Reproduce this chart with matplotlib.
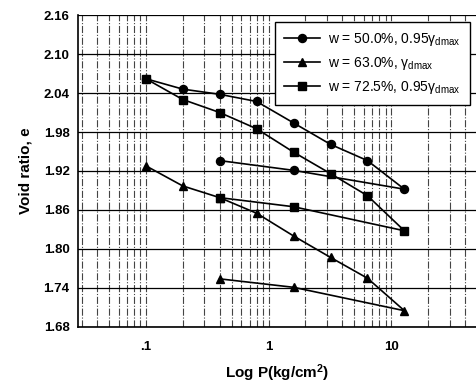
import matplotlib
matplotlib.use("Agg")
import matplotlib.pyplot as plt
from matplotlib.ticker import FixedLocator, FixedFormatter, NullFormatter, LogLocator

plt.rcParams['font.family'] = ['Liberation Sans', 'DejaVu Sans']
plt.rcParams['mathtext.fontset'] = 'custom'
plt.rcParams['mathtext.rm'] = 'Liberation Sans'
plt.rcParams['mathtext.it'] = 'Liberation Sans'
plt.rcParams['mathtext.default'] = 'regular'

# pressure steps (kg/cm2), loading then unloading
p_50 = [0.1, 0.2, 0.4, 0.8, 1.6, 3.2, 6.4, 12.8, 1.6, 0.4]
e_50 = [2.062, 2.046, 2.038, 2.027, 1.994, 1.961, 1.936, 1.892, 1.921, 1.936]

p_63 = [0.1, 0.2, 0.4, 0.8, 1.6, 3.2, 6.4, 12.8, 1.6, 0.4]
e_63 = [1.928, 1.897, 1.879, 1.855, 1.820, 1.787, 1.755, 1.705, 1.741, 1.754]

p_72 = [0.1, 0.2, 0.4, 0.8, 1.6, 3.2, 6.4, 12.8, 1.6, 0.4]
e_72 = [2.062, 2.030, 2.010, 1.985, 1.949, 1.916, 1.882, 1.828, 1.865, 1.879]

labels = [r'w = 50.0%, 0.95$\gamma_{dmax}$',
          r'w = 63.0%, $\gamma_{dmax}$',
          r'w = 72.5%, 0.95$\gamma_{dmax}$']

x_ticks = [0.1, 1, 10]
x_ticklabels = ['.1', '1', '10']
y_ticks = [1.68, 1.74, 1.80, 1.86, 1.92, 1.98, 2.04, 2.10, 2.16]

fig = plt.figure(figsize=(4.77, 3.86), dpi=100)
ax = fig.add_axes([0.1635, 0.153, 0.8365, 0.808])

ax.plot(p_50, e_50, '-o', color='black', lw=1.2, ms=5.8, label=labels[0])
ax.plot(p_63, e_63, '-^', color='black', lw=1.2, ms=5.8, label=labels[1])
ax.plot(p_72, e_72, '-s', color='black', lw=1.2, ms=5.2, label=labels[2])

ax.set_xscale('log')
ax.set_xlim(0.028, 50)
ax.set_ylim(1.68, 2.16)

ax.xaxis.set_major_locator(FixedLocator(x_ticks))
ax.xaxis.set_major_formatter(FixedFormatter(x_ticklabels))
ax.xaxis.set_minor_locator(LogLocator(base=10, subs=range(2, 10), numticks=20))
ax.xaxis.set_minor_formatter(NullFormatter())
ax.set_yticks(y_ticks)
ax.set_yticklabels([f'{v:.2f}' for v in y_ticks])

ax.grid(True, which='major', axis='y', color='black', lw=0.9, ls='-')
ax.grid(True, which='both', axis='x', color='#444444', lw=0.8, ls='-.')

ax.tick_params(axis='y', which='both', length=0, labelsize=9.5, pad=6)
ax.tick_params(axis='x', which='both', length=0, labelsize=9.5, pad=10)
for lab in ax.get_xticklabels() + ax.get_yticklabels():
    lab.set_fontweight('bold')

for side in ['top', 'right']:
    ax.spines[side].set_visible(False)
ax.spines['left'].set_linewidth(1.2)
ax.spines['bottom'].set_linewidth(1.2)

ax.set_xlabel('Log P(kg/cm$^{2}$)', fontsize=11, fontweight='bold', labelpad=7)
ax.set_ylabel('Void ratio, e', fontsize=11, fontweight='bold', labelpad=8)

leg = ax.legend(loc='upper right', bbox_to_anchor=(0.982, 0.978), fontsize=10,
                frameon=True, fancybox=False, edgecolor='black', framealpha=1,
                handlelength=2.6, handletextpad=0.6, borderpad=0.65,
                labelspacing=0.5, borderaxespad=0)
leg.get_frame().set_linewidth(1.0)

fig.savefig('out.png', dpi=100)
